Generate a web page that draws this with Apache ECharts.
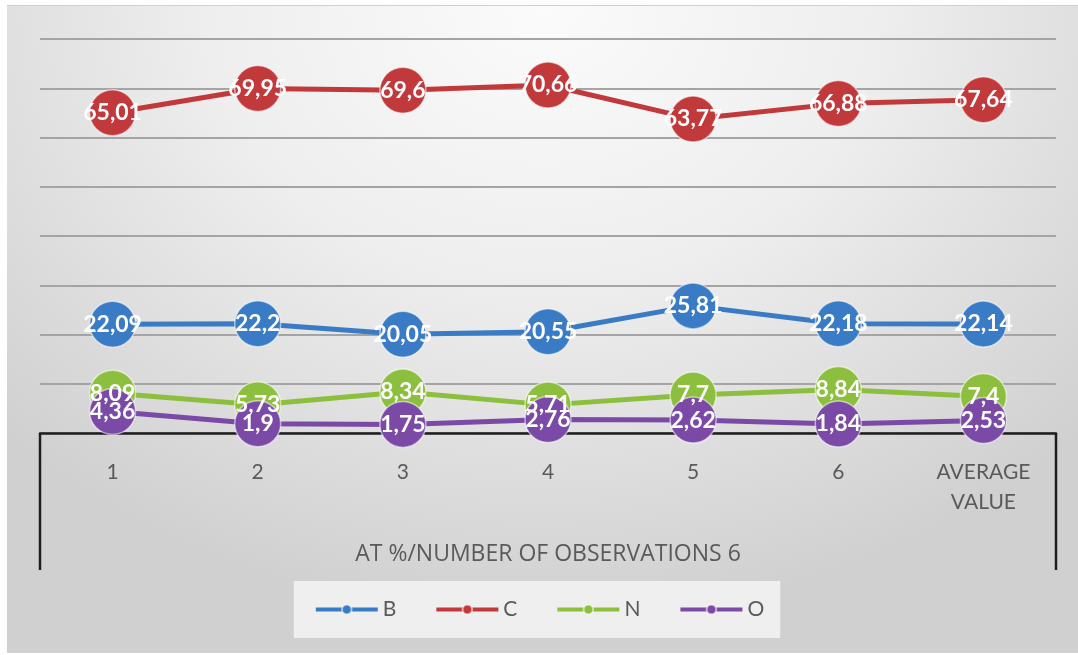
<!DOCTYPE html>
<html>
<head>
<meta charset="utf-8">
<script src="https://cdn.jsdelivr.net/npm/echarts@6/dist/echarts.min.js"></script>
<style>
  html, body { margin: 0; padding: 0; background: #ffffff; }
  #bg {
    position: absolute; left: 7px; top: 5px; width: 1071px; height: 648px;
    background: radial-gradient(ellipse 70% 95% at 50% 0%, #fbfbfb 0%, #eeeeee 45%, #d0d0d0 100%);
    border-top: 1px solid #cfcfcf;
    box-sizing: border-box;
  }
  #chart { position: absolute; left: 0; top: 0; width: 1078px; height: 655px; }
</style>
</head>
<body>
<div id="bg"></div>
<div id="chart"></div>
<script>
// Composition (at %) per observation, plus the average
const categories = ['1', '2', '3', '4', '5', '6', 'AVERAGE\nVALUE'];
const seriesNames = ['B', 'C', 'N', 'O'];
const valuesB = [22.09, 22.2, 20.05, 20.55, 25.81, 22.18, 22.14];
const valuesC = [65.01, 69.95, 69.6, 70.66, 63.77, 66.88, 67.64];
const valuesN = [8.09, 5.73, 8.34, 5.71, 7.7, 8.84, 7.4];
const valuesO = [4.36, 1.9, 1.75, 2.76, 2.62, 1.84, 2.53];
const axisTitle = 'AT %/NUMBER OF OBSERVATIONS 6';

const colors = ['#3a7bc6', '#c2393b', '#8dbf3e', '#7b4aa6'];
const W = 1078, H = 655;
const gridBox = { left: 40, right: 22, top: 39, bottom: 222 };
const boxBottom = 570;

const chart = echarts.init(document.getElementById('chart'), null, { renderer: 'canvas' });

const fmt = p => String(p.value).replace('.', ',');

function makeSeries(name, data, color) {
  return {
    name: name,
    type: 'line',
    data: data,
    clip: false,
    symbol: 'circle',
    symbolSize: 46,
    lineStyle: { color: color, width: 5 },
    itemStyle: { color: color, borderColor: 'rgba(255,255,255,0.55)', borderWidth: 1.5 },
    label: {
      show: true,
      position: 'inside',
      formatter: fmt,
      color: '#ffffff',
      fontFamily: 'Lato',
      fontWeight: 'bold',
      fontSize: 23
    },
    emphasis: { disabled: true },
    animation: false
  };
}

const xLeft = gridBox.left;
const xRight = W - gridBox.right;
const yAxis0 = H - gridBox.bottom;

chart.setOption({
  backgroundColor: 'transparent',
  color: colors,
  grid: gridBox,
  xAxis: {
    type: 'category',
    data: categories,
    boundaryGap: true,
    axisLine: { show: true, lineStyle: { color: '#1e1e1e', width: 2.5 } },
    axisTick: { show: false },
    axisLabel: {
      color: '#5a5a5a',
      fontFamily: 'Lato',
      fontSize: 21,
      lineHeight: 30,
      margin: 24,
      interval: 0
    },
    name: axisTitle,
    nameLocation: 'middle',
    nameGap: 110,
    nameTextStyle: { color: '#5a5a5a', fontFamily: 'Open Sans', fontSize: 23 }
  },
  yAxis: {
    type: 'value',
    min: 0,
    max: 80,
    interval: 10,
    axisLine: { show: false },
    axisTick: { show: false },
    axisLabel: { show: false },
    splitLine: { show: true, lineStyle: { color: '#a4a4a4', width: 2 } }
  },
  legend: {
    data: seriesNames,
    bottom: 17,
    left: 'center',
    backgroundColor: '#efefef',
    padding: [18, 16, 18, 20],
    itemWidth: 62,
    itemHeight: 12,
    itemGap: 38,
    lineStyle: { width: 4 },
    textStyle: { color: '#5a5a5a', fontFamily: 'Lato', fontSize: 21 }
  },
  graphic: [
    {
      type: 'polyline', z: -1, silent: true,
      shape: { points: [[xLeft, yAxis0], [xLeft, boxBottom]] },
      style: { stroke: '#1e1e1e', lineWidth: 2.5, fill: null }
    },
    {
      type: 'polyline', z: -1, silent: true,
      shape: { points: [[xRight, yAxis0], [xRight, boxBottom]] },
      style: { stroke: '#1e1e1e', lineWidth: 2.5, fill: null }
    }
  ],
  series: [
    makeSeries('B', valuesB, colors[0]),
    makeSeries('C', valuesC, colors[1]),
    makeSeries('N', valuesN, colors[2]),
    makeSeries('O', valuesO, colors[3])
  ]
});
</script>
</body>
</html>
